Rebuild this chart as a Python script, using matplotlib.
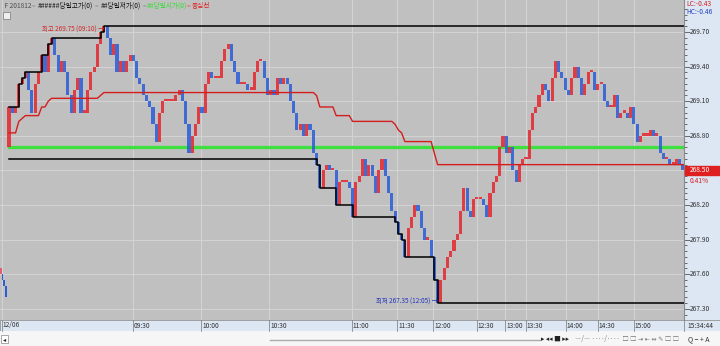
import numpy as np
import matplotlib
matplotlib.use('Agg')
import matplotlib.pyplot as plt
from matplotlib.patches import Rectangle

plt.rcParams['font.family'] = ['Noto Sans CJK KR', 'DejaVu Sans']

# ---- data (KOSPI200 futures F 201812, tick bars, 12/06) ----
day_open = 268.70
open_bar_low = 268.60
closes = [
    269.05, 269.00, 269.05, 269.25, 269.30, 269.35, 269.20, 269.00, 269.25, 269.35,
    269.50, 269.35, 269.60, 269.65, 269.50, 269.35, 269.45, 269.35, 269.15, 269.00,
    269.20, 269.30, 269.00, 269.00, 269.20, 269.35, 269.40, 269.60, 269.70, 269.75,
    269.65, 269.50, 269.60, 269.35, 269.45, 269.35, 269.45, 269.50, 269.45, 269.30,
    269.25, 269.15, 269.10, 269.05, 268.90, 268.75, 269.00, 269.10, 269.10, 269.10,
    269.10, 269.15, 269.20, 269.10, 268.90, 268.65, 268.80, 268.90, 269.05, 269.00,
    269.25, 269.35, 269.30, 269.30, 269.30, 269.45, 269.55, 269.60, 269.45, 269.35,
    269.25, 269.25, 269.25, 269.20, 269.20, 269.35, 269.45, 269.45, 269.30, 269.15,
    269.20, 269.15, 269.30, 269.25, 269.30, 269.25, 269.10, 269.00, 268.85, 268.90,
    268.80, 268.90, 268.85, 268.65, 268.55, 268.35, 268.50, 268.55, 268.50, 268.50,
    268.20, 268.40, 268.40, 268.40, 268.35, 268.10, 268.40, 268.45, 268.60, 268.45,
    268.55, 268.45, 268.30, 268.50, 268.60, 268.45, 268.30, 268.15, 268.05, 267.95,
    267.90, 267.75, 268.00, 268.10, 268.20, 268.15, 268.00, 267.90, 267.90, 267.75,
    267.55, 267.35, 267.55, 267.65, 267.75, 267.80, 267.90, 267.95, 268.15, 268.35,
    268.15, 268.10, 268.25, 268.25, 268.25, 268.20, 268.10, 268.30, 268.40, 268.45,
    268.70, 268.80, 268.65, 268.70, 268.50, 268.40, 268.55, 268.60, 268.60, 268.85,
    269.00, 269.05, 269.15, 269.25, 269.20, 269.10, 269.30, 269.45, 269.35, 269.30,
    269.20, 269.15, 269.30, 269.40, 269.30, 269.15, 269.25, 269.35, 269.35, 269.20,
    269.25, 269.25, 269.10, 269.05, 269.05, 269.15, 268.95, 269.00, 269.00, 268.95,
    269.05, 268.90, 268.75, 268.80, 268.80, 268.80, 268.85, 268.80, 268.80, 268.65,
    268.60, 268.60, 268.55, 268.55, 268.60, 268.55, 268.50,
]
prev_opens = [267.65, 267.60, 267.55, 267.50]
prev_closes = [267.60, 267.55, 267.50, 267.40]

price_ticks = [267.30, 267.60, 267.90, 268.20, 268.50, 268.80, 269.10, 269.40, 269.70]
time_pos = [-2.2, 37.9, 58.7, 79.5, 104.8, 118.6, 129.6, 143.0, 151.6, 158.0, 170.2, 180.0, 190.9]
time_labels = ['12/06', '09:30', '10:00', '10:30', '11:00', '11:30', '12:00', '12:30',
               '13:00', '13:30', '14:00', '14:30', '15:00']
last_time = '15:34:44'
high_text = '최고 269.75 (09:10) →'
low_text = '최저 267.35 (12:05) →'
last_pct = '0.41%'
lc_text = 'LC:-0.43'
hc_text = 'HC:-0.46'

# ---- derived series ----
closes = np.array(closes)
opens = np.r_[day_open, closes[:-1]]
idx = np.arange(len(closes))
highs = np.maximum(opens, closes)
lows = np.minimum(opens, closes)
lows[0] = open_bar_low
run_high = np.maximum.accumulate(highs)
run_low = np.minimum.accumulate(lows)
center = (run_high + run_low) / 2

W, H = 720, 346
fig = plt.figure(figsize=(7.2, 3.46), dpi=100)
fig.patch.set_facecolor('#c0c0c0')

def fx(px):
    return px / W

def fy(py):
    return 1 - py / H

# price <-> pixel: 269.70 at y=32, 0.30 per 34.6 px
ppx = 0.30 / 34.6
ytop = 269.70 + 32 * ppx
ybot = 269.70 - (320 - 32) * ppx
step = (683 - 9) / (len(closes) - 1)
xleft = -9 / step
xright = (684 - 9) / step

ax = fig.add_axes([0, fy(320), fx(684), 320 / H])
ax.set_facecolor('#c0c0c0')
ax.set_xlim(xleft, xright)
ax.set_ylim(ybot, ytop)
for s in ax.spines.values():
    s.set_visible(False)
ax.set_xticks([])
ax.set_yticks([])

for p in price_ticks:
    ax.axhline(p, color='#d4d4d4', lw=0.7, zorder=0)
for t in time_pos:
    ax.axvline(t, color='#d4d4d4', lw=0.7, zorder=0)

# bars
body = closes - opens
body = np.where(np.abs(body) < 0.01, 0.02, body)
up = closes >= opens
ax.bar(idx[up], body[up], bottom=opens[up], width=0.95, color='#e4262e', alpha=0.85, zorder=3, linewidth=0)
ax.bar(idx[~up], body[~up], bottom=opens[~up], width=0.95, color='#2a5cd6', alpha=0.85, zorder=3, linewidth=0)
ax.bar(0, highs[0] - open_bar_low, bottom=open_bar_low, width=0.3, color='#e89090', zorder=2, linewidth=0)

# previous day fragment
pidx = np.linspace(-2.5, -0.9, len(prev_closes))
pb = np.array(prev_closes) - np.array(prev_opens)
ax.bar(pidx, pb, bottom=prev_opens, width=0.5, color=['#e06070', '#2a5cd6', '#2a5cd6', '#2a5cd6'],
       zorder=3, linewidth=0)

# day open (green), high/low (black), center (red)
ax.plot([0, xright], [day_open, day_open], color='#3ee03e', lw=2.3, zorder=2)
ax.step(np.r_[idx, xright], np.r_[run_high, run_high[-1]], where='post', color='black', lw=1.1, zorder=4)
ax.step(np.r_[idx, xright], np.r_[run_low, run_low[-1]], where='post', color='black', lw=1.1, zorder=4)
ax.plot(np.r_[idx, xright], np.r_[center, center[-1]], color='#d41e1e', lw=1.0, zorder=4)

ih = int(np.argmax(closes))
il = int(np.argmin(closes))
ax.text(ih + 0.2, run_high[-1] - 0.025, high_text, color='#d02828', fontsize=4.6,
        ha='right', va='center', zorder=5)
ax.text(il + 0.2, run_low[-1] + 0.01, low_text, color='#2233bb', fontsize=4.6,
        ha='right', va='center', zorder=5)

# right price panel
axr = fig.add_axes([fx(684), fy(320), fx(36), 320 / H])
axr.set_facecolor('#dde7f4')
axr.set_xlim(0, 1)
axr.set_ylim(ybot, ytop)
axr.set_xticks([])
for k in ['top', 'right', 'bottom']:
    axr.spines[k].set_visible(False)
axr.spines['left'].set_color('#8a8a8a')
axr.set_yticks(price_ticks)
axr.set_yticks(np.arange(267.25, 269.95, 0.05), minor=True)
axr.tick_params(axis='y', which='both', direction='in', left=True, labelleft=False,
                color='#555555', width=0.6)
axr.tick_params(axis='y', which='major', length=4)
axr.tick_params(axis='y', which='minor', length=2)
for p in price_ticks:
    if abs(p - closes[-1]) < 0.01:
        continue
    axr.text(0.16, p, f'{p:.2f}', fontsize=4.8, color='#333333', va='center', ha='left')
axr.add_patch(Rectangle((0.03, closes[-1] - 0.04), 0.94, 0.08, color='#e02020', zorder=3))
axr.text(0.16, closes[-1], f'{closes[-1]:.2f}', fontsize=4.8, color='white', va='center', ha='left', zorder=4)
axr.text(0.16, closes[-1] - 0.095, last_pct, fontsize=4.8, color='#d02020', va='center', ha='left')

fig.text(fx(686), fy(4), lc_text, fontsize=4.8, color='#d02020', va='center', ha='left')
fig.text(fx(686), fy(12), hc_text, fontsize=4.8, color='#2040c0', va='center', ha='left')

# title legend
title_parts = [(3, ' F 201812', '#505050'), (32, '=', '#909090'), (38, '######당일고가(0)', '#111111'),
               (95, '=', '#909090'), (101, '##당일저가(0)', '#111111'), (143, '=', '#909090'),
               (147, '##당일시가(0)', '#33dd33'), (187, '=', '#e06060'), (192, '중심선', '#e02020')]
for px, txt, c in title_parts:
    fig.text(fx(px), fy(6), txt, fontsize=4.8, color=c, va='center', ha='left')
fig.patches.append(Rectangle((fx(3), fy(19)), fx(7), 7 / H, transform=fig.transFigure,
                             facecolor='#eeeeee', edgecolor='#777777', lw=0.5))

# time axis strip
fig.patches.append(Rectangle((0, fy(331)), 1, 11 / H, transform=fig.transFigure,
                             facecolor='#dde7f4', edgecolor='#8a8a8a', lw=0.5))
for t, lab in zip(time_pos, time_labels):
    px = 9 + t * step
    fig.lines.append(plt.Line2D([fx(px), fx(px)], [fy(331), fy(320)], transform=fig.transFigure,
                                color='#777777', lw=0.5))
    fig.text(fx(px + 1), fy(325.5), lab, fontsize=4.8, color='#333333', va='center', ha='left')
fig.lines.append(plt.Line2D([fx(684), fx(684)], [fy(331), fy(320)], transform=fig.transFigure,
                            color='#777777', lw=0.5))
fig.text(fx(687), fy(325.5), last_time, fontsize=4.8, color='#333333', va='center', ha='left')

# bottom toolbar
fig.patches.append(Rectangle((0, 0), 1, 15 / H, transform=fig.transFigure,
                             facecolor='#f6f6f6', edgecolor='none'))
fig.patches.append(Rectangle((fx(1), fy(343)), fx(7), 8 / H, transform=fig.transFigure,
                             facecolor='white', edgecolor='#888888', lw=0.5))
fig.text(fx(2.5), fy(339), '◂', fontsize=4.5, color='#222222', va='center', ha='left')
fig.lines.append(plt.Line2D([fx(270), fx(540)], [fy(339.5), fy(339.5)], transform=fig.transFigure,
                            color='#aaaaaa', lw=1.0))
fig.text(fx(541), fy(339), '▸ ◂◂ ■ ▸▸', fontsize=4.8, color='#222222', va='center', ha='left')
fig.text(fx(575), fy(339), '―/― ‥‥/‥‥  □ □ ⇥ ⇤ ⇹ ✎ □ □', fontsize=4.6, color='#777777',
         va='center', ha='left')
fig.text(fx(688), fy(339), 'Q − + A', fontsize=5, color='#333333', va='center', ha='left')

fig.savefig('out.png', dpi=100)
